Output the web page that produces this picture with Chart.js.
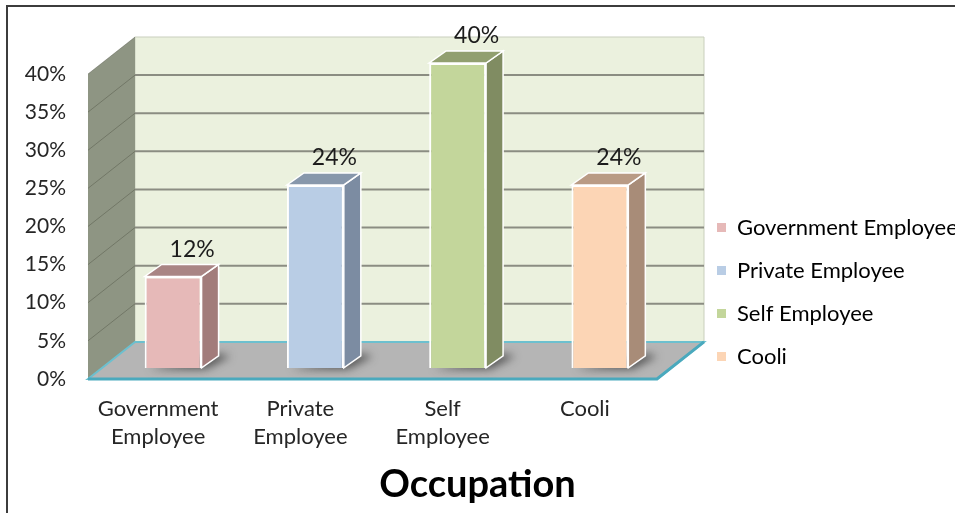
<!DOCTYPE html>
<html>
<head>
<meta charset="utf-8">
<script src="https://cdn.jsdelivr.net/npm/chart.js@4.4.1/dist/chart.umd.min.js"></script>
<style>
  body { margin: 0; background: #fff; }
  #wrap { position: relative; width: 955px; height: 513px; overflow: hidden; }
  #frame { position: absolute; left: 6px; top: 5px; width: 1000px; height: 600px;
    border-left: 2px solid #3c3c3c; border-top: 2px solid #3c3c3c; pointer-events: none; }
</style>
</head>
<body>
<div id="wrap">
  <canvas id="chart"></canvas>
  <div id="frame"></div>
</div>
<script>
const categories = [["Government", "Employee"], ["Private", "Employee"], ["Self", "Employee"], ["Cooli"]]
const legendNames = ["Government Employee", "Private Employee", "Self Employee", "Cooli"]
const values = [12, 24, 40, 24]
const yTicks = [0, 5, 10, 15, 20, 25, 30, 35, 40]

const frontColors = ["#e6b9b8", "#b9cde5", "#c3d69b", "#fcd5b5"]
const sideColors = ["#a27c7b", "#7c8ca2", "#808c62", "#a88c78"]
const topColors = ["#a98584", "#8797ab", "#919f70", "#b99b85"]

// offsets of the front and back planes relative to the bar plane
const FRONT = { dx: -14, dy: 11 }
const BACK = { dx: 33, dy: -26 }
const DEPTH = { dx: 17, dy: -12 }

function poly(ctx, pts, fill, stroke, lw) {
  ctx.beginPath()
  pts.forEach((p, i) => i ? ctx.lineTo(p[0], p[1]) : ctx.moveTo(p[0], p[1]))
  ctx.closePath()
  if (fill) { ctx.fillStyle = fill; ctx.fill() }
  if (stroke) { ctx.strokeStyle = stroke; ctx.lineWidth = lw || 1; ctx.stroke() }
}

const boxPlugin = {
  id: "box3d",
  afterInit(chart) {
    const lg = chart.legend
    const fit = lg.fit
    lg.fit = function () { fit.call(this); this.width = 284 }
  },
  afterLayout(chart) {
    const lg = chart.legend
    lg.left = 696
    lg.top += 4
    lg.bottom += 4
  },
  beforeDatasetsDraw(chart) {
    const ctx = chart.ctx
    const y = chart.scales.y
    const a = chart.chartArea
    const y0 = y.getPixelForValue(0)
    const yTop = y.getPixelForValue(yTicks[yTicks.length - 1])
    const fl = a.left + FRONT.dx, fr = a.right + FRONT.dx
    const bl = a.left + BACK.dx, br = a.right + BACK.dx
    ctx.save()
    // back wall
    poly(ctx, [[bl, yTop + BACK.dy], [br, yTop + BACK.dy], [br, y0 + BACK.dy], [bl, y0 + BACK.dy]], "#ebf1de", "#c9cfbd", 1)
    // back wall grid
    ctx.strokeStyle = "#8b8d82"
    ctx.lineWidth = 2
    yTicks.slice(1, -1).forEach(v => {
      const py = y.getPixelForValue(v) + BACK.dy
      ctx.beginPath(); ctx.moveTo(bl, py); ctx.lineTo(br, py); ctx.stroke()
    })
    // side wall
    poly(ctx, [[fl, y0 + FRONT.dy], [fl, yTop + FRONT.dy], [bl, yTop + BACK.dy], [bl, y0 + BACK.dy]], "#8e9583")
    ctx.strokeStyle = "rgba(60,64,50,0.35)"
    ctx.lineWidth = 1
    yTicks.slice(1).forEach(v => {
      const py = y.getPixelForValue(v)
      ctx.beginPath(); ctx.moveTo(fl, py + FRONT.dy); ctx.lineTo(bl, py + BACK.dy); ctx.stroke()
    })
    // floor
    poly(ctx, [[fl, y0 + FRONT.dy], [fr, y0 + FRONT.dy], [br, y0 + BACK.dy], [bl, y0 + BACK.dy]], "#b5b5b5", "#6cc0cf", 2)
    ctx.strokeStyle = "#4aa9bd"
    ctx.lineWidth = 3
    ctx.beginPath()
    ctx.moveTo(fl, y0 + FRONT.dy); ctx.lineTo(fr, y0 + FRONT.dy); ctx.lineTo(br, y0 + BACK.dy)
    ctx.stroke()
    // bar shadows
    ctx.filter = "blur(4px)"
    chart.getDatasetMeta(0).data.forEach(bar => {
      const r = bar.x + bar.width / 2
      const b = bar.base
      poly(ctx, [[bar.x - bar.width / 2 + 4, b + 1], [r + 4, b + 1], [r + DEPTH.dx + 12, b + DEPTH.dy], [r + DEPTH.dx, b + DEPTH.dy - 2]], "rgba(50,50,50,0.75)")
    })
    ctx.filter = "none"
    ctx.restore()
  },
  afterDatasetsDraw(chart) {
    const ctx = chart.ctx
    ctx.save()
    chart.getDatasetMeta(0).data.forEach((bar, i) => {
      const l = bar.x - bar.width / 2
      const r = bar.x + bar.width / 2
      const t = bar.y
      const b = bar.base
      poly(ctx, [[r, t], [r + DEPTH.dx, t + DEPTH.dy], [r + DEPTH.dx, b + DEPTH.dy], [r, b]], sideColors[i], "#ffffff", 1.5)
      poly(ctx, [[l, t], [r, t], [r + DEPTH.dx, t + DEPTH.dy], [l + DEPTH.dx, t + DEPTH.dy]], topColors[i], "#ffffff", 1.5)
      ctx.fillStyle = "#1c1c1c"
      ctx.font = "23px Lato"
      ctx.textAlign = "center"
      ctx.textBaseline = "middle"
      ctx.fillText(values[i] + "%", bar.x + 19, t - 27)
    })
    ctx.restore()
  }
}

Chart.defaults.font.family = "Lato"
Chart.defaults.color = "#262626"

new Chart(document.getElementById("chart"), {
  type: "bar",
  data: {
    labels: categories,
    datasets: [{
      label: "Occupation",
      data: values,
      backgroundColor: frontColors,
      borderColor: "#ffffff",
      borderWidth: 2,
      barPercentage: 0.4,
      categoryPercentage: 1.0
    }]
  },
  options: {
    responsive: true,
    maintainAspectRatio: false,
    animation: false,
    layout: { padding: { top: 63, left: 0, right: 0, bottom: 0 } },
    scales: {
      x: {
        grid: { display: false, drawTicks: false },
        border: { display: false },
        ticks: { font: { size: 22, lineHeight: 1.27 }, padding: 27, labelOffset: -15, maxRotation: 0, color: "#262626" },
        afterFit(scale) { scale.height = 94.5 }
      },
      y: {
        min: 0,
        max: 40,
        grid: { display: false, drawTicks: false },
        border: { display: false },
        ticks: { stepSize: 5, font: { size: 21 }, padding: 36, labelOffset: 11, color: "#262626", callback: v => v + "%" },
        afterFit(scale) { scale.width = 102 }
      }
    },
    plugins: {
      title: {
        display: true,
        position: "bottom",
        text: "Occupation",
        color: "#000",
        font: { size: 38, weight: "bold" },
        padding: { top: 0, bottom: 5 }
      },
      legend: {
        position: "right",
        labels: {
          boxWidth: 9,
          boxHeight: 9,
          padding: 21,
          font: { size: 22 },
          color: "#262626",
          generateLabels: () => legendNames.map((name, i) => ({
            text: name,
            fillStyle: frontColors[i],
            strokeStyle: frontColors[i],
            lineWidth: 0,
            index: i
          }))
        }
      },
      tooltip: { enabled: false }
    }
  },
  plugins: [boxPlugin]
})
</script>
</body>
</html>
